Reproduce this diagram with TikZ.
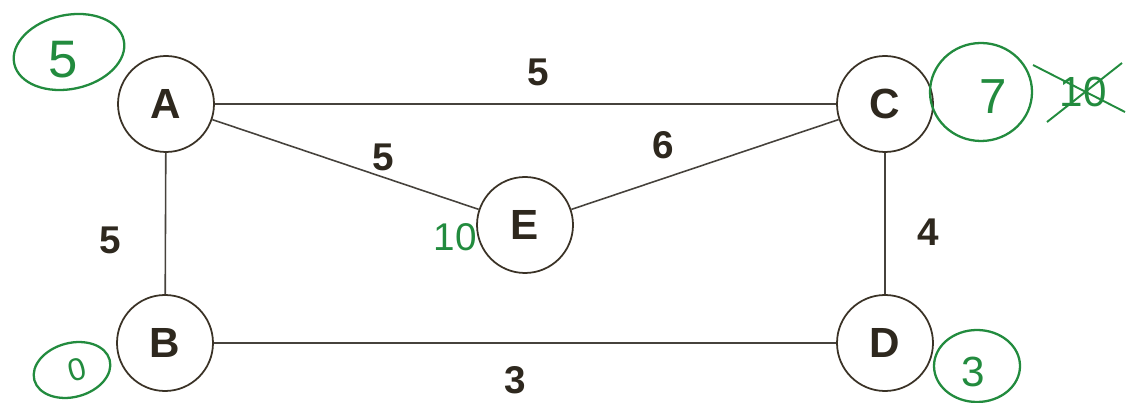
\documentclass[tikz,border=0pt]{standalone}
\definecolor{inkdark}{RGB}{58, 50, 38}
\definecolor{penline}{RGB}{70, 66, 60}
\definecolor{markgreen}{RGB}{34, 139, 62}
\usepackage{fontspec}
\setmainfont{Liberation Sans}
\usepackage{tikz}
\usetikzlibrary{positioning}

\begin{document}
\begin{tikzpicture}[
  vertex/.style={draw=inkdark, line width=1pt, circle, fill=white, minimum size=1.92cm, inner sep=0pt, font=\fontsize{24}{26}\selectfont\bfseries, text=inkdark!80!black},
  wt/.style={font=\fontsize{22}{24}\selectfont\bfseries, text=inkdark!80!black, inner sep=1pt},
  edge/.style={draw=penline, line width=0.9pt},
  mark/.style={text=markgreen, font=\fontsize{#1}{#1}\selectfont, inner sep=0pt},
  ring/.style={draw=markgreen, line width=1.3pt}
]
  \useasboundingbox (0,0) rectangle (22.64,8.06);

  \node[vertex] (A) at (3.32, 5.98) {A};
  \node[vertex] (C) at (17.70, 5.98) {C};
  \node[vertex] (E) at (10.50, 3.56) {E};
  \node[vertex] (B) at (3.30, 1.20) {B};
  \node[vertex] (D) at (17.70, 1.20) {D};

  \draw[edge] (A) -- (C);
  \draw[edge] (A) -- (E);
  \draw[edge] (E) -- (C);
  \draw[edge] (A) -- (B);
  \draw[edge] (C) -- (D);
  \draw[edge] (B) -- (D);

  \node[wt] (wAC) at (10.76, 6.62) {5};
  \node[wt] (wAE) at (7.66, 4.92) {5};
  \node[wt] (wEC) at (13.26, 5.16) {6};
  \node[wt] (wAB) at (2.20, 3.26) {5};
  \node[wt] (wCD) at (18.56, 3.42) {4};
  \node[wt] (wBD) at (10.30, 0.46) {3};

  \draw[ring, rotate around={12:(1.38,7.02)}] (1.38, 7.02) ellipse (1.12 and 0.74);
  \node[mark=30] (distA) at (1.26, 6.86) {5};
  \draw[ring] (19.62, 6.22) ellipse (1.02 and 0.98);
  \node[mark=28] (distC) at (19.86, 6.12) {7};
  \node[mark=24] (oldC) at (21.66, 6.22) {10};
  \draw[markgreen, line width=1.1pt] ([shift={(-1.0,0.54)}]oldC.center) -- ([shift={(0.84,-0.40)}]oldC.center);
  \draw[markgreen, line width=1.1pt] ([shift={(-0.72,-0.60)}]oldC.center) -- ([shift={(0.78,0.58)}]oldC.center);
  \node[mark=22] (distE) at (9.10, 3.32) {10};
  \draw[ring, rotate around={15:(1.44,0.66)}] (1.44, 0.66) ellipse (0.78 and 0.54);
  \node[mark=18, rotate=15] (distB) at (1.54, 0.66) {0};
  \draw[ring] (19.54, 0.74) ellipse (0.86 and 0.72);
  \node[mark=24] (distD) at (19.46, 0.62) {3};
\end{tikzpicture}
\end{document}
